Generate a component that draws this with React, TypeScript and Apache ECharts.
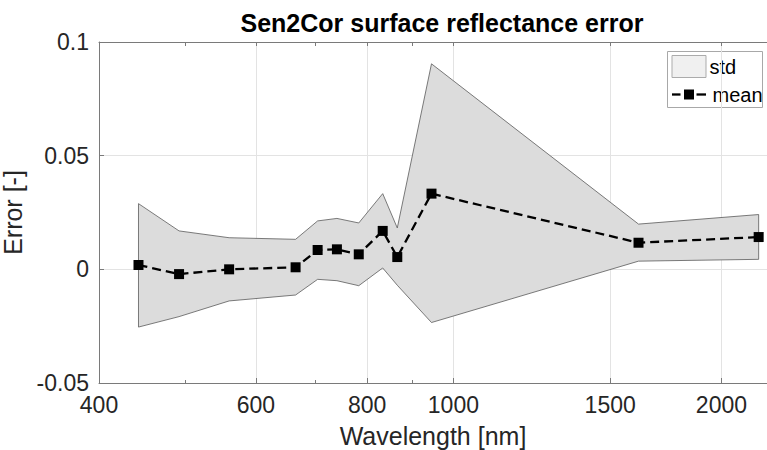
import React, { useEffect, useRef } from "react";
import * as echarts from "echarts";

// Sentinel-2 band centre wavelengths [nm]
const wavelengths = [443, 492, 560, 665, 704, 740, 783, 833, 865, 945, 1614, 2202];
// mean error
const meanErr = [0.0019, -0.0021, 0.0, 0.0009, 0.0085, 0.0088, 0.0066, 0.0169, 0.0054, 0.0333, 0.0117, 0.0142];
// mean + std
const upperErr = [0.0289, 0.0169, 0.0139, 0.0132, 0.0213, 0.0224, 0.0204, 0.0333, 0.0182, 0.0904, 0.0199, 0.0241];
// mean - std
const lowerErr = [-0.0254, -0.0208, -0.0139, -0.0113, -0.0044, -0.005, -0.0072, 0.0006, -0.007, -0.0234, 0.0036, 0.0044];

const xMajorTicks = [400, 600, 800, 1000, 1500, 2000];
const xMinorTicks = [500, 700, 900];
const xMin = 400;
const xMax = 2250;

const FONT = "'Liberation Sans', Arial, Helvetica, sans-serif";
const TXT = "#262626";
const AX = "#7a7a7a";
const GRID = "#e3e3e3";

const lg = (v: number) => Math.log10(v);

export default function App() {
  const ref = useRef<HTMLDivElement>(null);
  useEffect(() => {
    if (!ref.current) return;
    const chart = echarts.init(ref.current, null, { renderer: "svg" });
    const bandData = wavelengths.map((w, i) => [lg(w), lowerErr[i], upperErr[i]]);
    const meanData = wavelengths.map((w, i) => [lg(w), meanErr[i]]);
    const option: any = {
      animation: false,
      backgroundColor: "#ffffff",
      textStyle: { fontFamily: FONT },
      title: {
        text: "Sen2Cor surface reflectance error",
        left: 437,
        textAlign: "center",
        top: 5,
        textStyle: { fontFamily: FONT, fontSize: 25, fontWeight: "bold", color: "#000" },
      },
      grid: { left: 99, right: 0, top: 42, bottom: 67, containLabel: false, outerBoundsMode: "none" },
      xAxis: [
        {
          type: "value",
          position: "bottom",
          min: lg(xMin),
          max: lg(xMax),
          name: "Wavelength [nm]",
          nameLocation: "middle",
          nameGap: 40,
          nameTextStyle: { fontFamily: FONT, fontSize: 25, color: TXT },
          axisLine: { show: true, onZero: false, lineStyle: { color: AX, width: 1 } },
          axisTick: { show: true, inside: true, length: 5, lineStyle: { color: AX }, customValues: xMajorTicks.map(lg) },
          axisLabel: {
            show: true,
            margin: 10,
            fontFamily: FONT,
            fontSize: 23,
            color: TXT,
            customValues: xMajorTicks.map(lg),
            formatter: (v: number) => String(Math.round(Math.pow(10, v))),
          },
          splitLine: { show: true, lineStyle: { color: GRID, width: 1 } },
        },
        {
          type: "value",
          position: "bottom",
          min: lg(xMin),
          max: lg(xMax),
          axisLine: { show: false, onZero: false },
          axisTick: { show: true, inside: true, length: 3, lineStyle: { color: AX }, customValues: xMinorTicks.map(lg) },
          axisLabel: { show: false },
          splitLine: { show: false },
        },
        {
          type: "value",
          position: "top",
          min: lg(xMin),
          max: lg(xMax),
          axisLine: { show: true, onZero: false, lineStyle: { color: AX, width: 1 } },
          axisTick: {
            show: true,
            inside: true,
            length: 4,
            lineStyle: { color: AX },
            customValues: [...xMajorTicks, ...xMinorTicks].map(lg),
          },
          axisLabel: { show: false },
          splitLine: { show: false },
        },
      ],
      yAxis: {
        type: "value",
        min: -0.05,
        max: 0.1,
        interval: 0.05,
        name: "Error [-]",
        nameLocation: "middle",
        nameGap: 52,
        nameTextStyle: { fontFamily: FONT, fontSize: 25, color: TXT },
        axisLine: { show: true, onZero: false, lineStyle: { color: AX, width: 1 } },
        axisTick: { show: true, inside: true, length: 5, lineStyle: { color: AX } },
        axisLabel: { margin: 10, fontFamily: FONT, fontSize: 23, color: TXT },
        splitLine: { show: true, lineStyle: { color: GRID, width: 1 } },
      },
      series: [
        {
          name: "std",
          type: "custom",
          xAxisIndex: 0,
          data: bandData,
          encode: { x: 0, y: [1, 2] },
          renderItem: (params: any, api: any) => {
            if (params.dataIndex !== 0) return null;
            const pts: number[][] = [];
            for (let i = 0; i < wavelengths.length; i++) pts.push(api.coord([lg(wavelengths[i]), upperErr[i]]));
            for (let i = wavelengths.length - 1; i >= 0; i--) pts.push(api.coord([lg(wavelengths[i]), lowerErr[i]]));
            return {
              type: "polygon",
              shape: { points: pts },
              style: { fill: "#dcdcdc", stroke: "#5a5a5a", lineWidth: 0.8 },
            };
          },
          z: 1,
        },
        {
          name: "mean",
          type: "line",
          xAxisIndex: 0,
          data: meanData,
          symbol: "rect",
          symbolSize: 10,
          itemStyle: { color: "#000" },
          lineStyle: { color: "#000", width: 2.3, type: [9, 5] },
          z: 3,
        },
      ],
      graphic: [
        {
          type: "group",
          left: 667,
          top: 51,
          children: [
            { type: "rect", shape: { x: 0, y: 0, width: 95, height: 56 }, style: { fill: "#fff", stroke: "#a8a8a8", lineWidth: 1 } },
            { type: "rect", shape: { x: 4.5, y: 4, width: 34, height: 22 }, style: { fill: "#f0f0f0", stroke: "#ababab", lineWidth: 1 } },
            { type: "text", x: 42, y: 15, style: { text: "std", font: `20px ${FONT}`, fill: "#000", verticalAlign: "middle" } },
            { type: "line", shape: { x1: 4.5, y1: 43, x2: 13, y2: 43 }, style: { stroke: "#000", lineWidth: 2.3 } },
            { type: "line", shape: { x1: 29, y1: 43, x2: 38.5, y2: 43 }, style: { stroke: "#000", lineWidth: 2.3 } },
            { type: "rect", shape: { x: 16.5, y: 38, width: 10, height: 10 }, style: { fill: "#000" } },
            { type: "text", x: 45, y: 43, style: { text: "mean", font: `20px ${FONT}`, fill: "#000", verticalAlign: "middle" } },
          ],
        },
      ],
    };
    chart.setOption(option);
    return () => chart.dispose();
  }, []);
  return (
    <div
      ref={ref}
      style={{ position: "fixed", left: 0, top: 0, width: 767, height: 450, background: "#fff" }}
    />
  );
}
